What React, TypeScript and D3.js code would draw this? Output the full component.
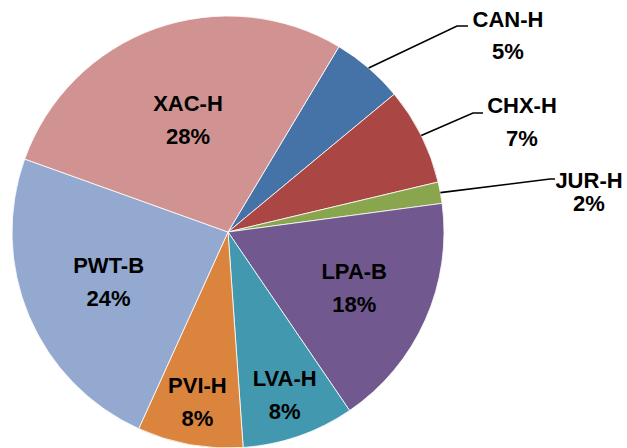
import React, { useEffect, useRef } from 'react';
import * as d3 from 'd3';

// slices in clockwise order (percent of total)
const categories = ['CAN-H', 'CHX-H', 'JUR-H', 'LPA-B', 'LVA-H', 'PVI-H', 'PWT-B', 'XAC-H'];
const shares = [5.4, 7.3, 1.6, 17.6, 8.4, 7.9, 23.7, 28.1];
const colors = ['#4572A7', '#AA4643', '#89A54E', '#71588F', '#4198AF', '#DB843D', '#93A9CF', '#D19392'];

const W = 627;
const H = 448;
const cx = 228;
const cy = 232;
const R = 216;
const startDeg = 30.9;
const fontSize = 22;

// label placement: inside labels use fraction of radius, outside ones sit beside a leader line
const insideRadius: Record<string, number> = {
  'LPA-B': 0.64, 'LVA-H': 0.8, 'PVI-H': 0.8, 'PWT-B': 0.6, 'XAC-H': 0.55,
};
const outsideLabels: Record<string, { x: number; y: number; gap: number; elbow: [number, number]; end: number }> = {
  'CAN-H': { x: 508, y: 27, gap: 32, elbow: [457, 26], end: 468 },
  'CHX-H': { x: 522, y: 113, gap: 33, elbow: [473, 113], end: 483 },
  'JUR-H': { x: 589, y: 188, gap: 23, elbow: [550, 179], end: 555 },
};

const App: React.FC = () => {
  const svgRef = useRef<SVGSVGElement | null>(null);

  useEffect(() => {
    const svg = d3.select(svgRef.current);
    svg.selectAll('*').remove();

    const data = categories.map((c, i) => ({ name: c, value: shares[i], color: colors[i] }));
    const total = d3.sum(shares);
    const start = (startDeg * Math.PI) / 180;

    const pie = d3.pie<typeof data[0]>()
      .value(d => d.value)
      .sort(null)
      .startAngle(start)
      .endAngle(start + 2 * Math.PI);

    const arc = d3.arc<d3.PieArcDatum<typeof data[0]>>()
      .innerRadius(0)
      .outerRadius(R);

    const g = svg.append('g').attr('transform', `translate(${cx},${cy})`);
    const arcs = pie(data);

    g.selectAll('path.slice')
      .data(arcs)
      .enter()
      .append('path')
      .attr('class', 'slice')
      .attr('d', arc)
      .attr('fill', d => d.data.color)
      .attr('stroke', '#fff')
      .attr('stroke-width', 0.8);

    const font = '"Liberation Sans", Arial, sans-serif';
    const pct = (v: number) => `${Math.round((v / total) * 100)}%`;

    arcs.forEach(a => {
      const mid = (a.startAngle + a.endAngle) / 2;
      const name = a.data.name;
      if (insideRadius[name] !== undefined) {
        const r = R * insideRadius[name];
        const px = r * Math.sin(mid);
        const py = -r * Math.cos(mid);
        const t = g.append('text')
          .attr('text-anchor', 'middle')
          .attr('font-family', font)
          .attr('font-weight', 'bold')
          .attr('font-size', fontSize)
          .attr('fill', '#000');
        t.append('tspan').attr('x', px).attr('y', py - 9).text(name);
        t.append('tspan').attr('x', px).attr('y', py + 24).text(pct(a.data.value));
      } else {
        const o = outsideLabels[name];
        const ex = cx + R * Math.sin(mid);
        const ey = cy - R * Math.cos(mid);
        svg.append('polyline')
          .attr('points', `${ex},${ey} ${o.elbow[0]},${o.elbow[1]} ${o.end},${o.elbow[1]}`)
          .attr('fill', 'none')
          .attr('stroke', '#000')
          .attr('stroke-width', 1.6);
        const t = svg.append('text')
          .attr('text-anchor', 'middle')
          .attr('font-family', font)
          .attr('font-weight', 'bold')
          .attr('font-size', fontSize)
          .attr('fill', '#000');
        t.append('tspan').attr('x', o.x).attr('y', o.y).text(name);
        t.append('tspan').attr('x', o.x).attr('y', o.y + o.gap).text(pct(a.data.value));
      }
    });
  }, []);

  return (
    <svg
      ref={svgRef}
      width={W}
      height={H}
      style={{ position: 'absolute', left: 0, top: 0, background: '#fff', display: 'block' }}
    />
  );
};

export default App;
